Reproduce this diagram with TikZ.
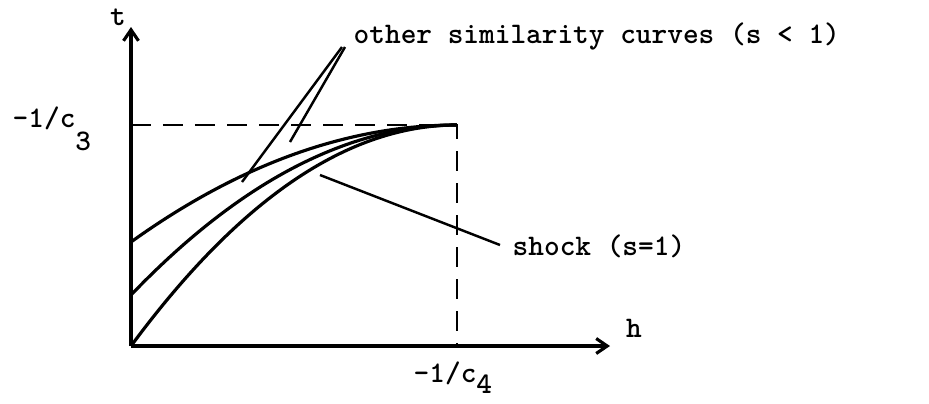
\documentclass[tikz,border=0pt]{standalone}
\usepackage{fontspec}
\usetikzlibrary{arrows.meta}
\begin{document}
\begin{tikzpicture}[>={Straight Barb[length=1.1mm,width=1.5mm]},
  every node/.style={font=\ttfamily\bfseries\fontsize{8.5}{10}\selectfont,inner sep=0pt},
  axis/.style={line width=0.9pt,->},
  guide/.style={line width=0.8pt,dash pattern=on 2mm off 1.2mm},
  curve/.style={line width=0.9pt},
  pointer/.style={line width=0.7pt}]
\useasboundingbox (-1.31,-0.57) rectangle (7.98,3.46);
% axes
\coordinate (o) at (0,0);
\coordinate (ttop) at (0,3.19);
\coordinate (hend) at (4.79,0);
\coordinate (p) at (3.26,2.21);
\draw[axis] (o) -- (ttop);
\draw[axis] (o) -- (hend);
\node (tlab) at (-0.13,3.29) {t};
\node (hlab) at (5.03,0.18) {h};
% dashed box corner
\draw[guide] (o |- p) -- (p) -- (p |- o);
\node[anchor=base west] (c3) at (-1.19,2.19) {-1/c\raisebox{-0.8em}{3}};
\node[anchor=base west] (c4) at (2.82,-0.36) {-1/c\raisebox{-0.4em}{4}};
% similarity curves
\draw[curve] (0,1.04) .. controls (1.087,1.82) and (2.173,2.21) .. (p);
\draw[curve] (0,0.51) .. controls (1.087,1.643) and (2.173,2.21) .. (p);
\draw[curve] (o) .. controls (1.087,1.473) and (2.173,2.21) .. (p);
% labels and pointers
\node[anchor=base west] (other) at (2.22,3.03) {other similarity curves (s < 1)};
\node[anchor=base west] (shock) at (3.81,0.91) {shock (s=1)};
\coordinate (oa) at (2.11,2.99);
\coordinate (ob) at (2.14,2.99);
\coordinate (ea) at (1.11,1.64);
\coordinate (eb) at (1.59,2.04);
\coordinate (sa) at (3.69,1.01);
\coordinate (se) at (1.89,1.71);
\draw[pointer] (oa) -- (ea);
\draw[pointer] (ob) -- (eb);
\draw[pointer] (sa) -- (se);
\end{tikzpicture}
\end{document}
